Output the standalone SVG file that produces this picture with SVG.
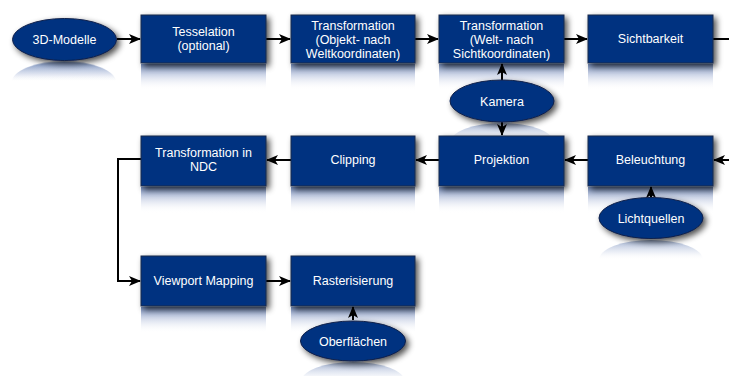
<svg xmlns="http://www.w3.org/2000/svg" width="729" height="376" viewBox="0 0 729 376">
<style>
.box{fill:#003380;stroke:#1a2a4a;stroke-width:1;filter:url(#sh)}
.ell{fill:#003380;stroke:#10204a;stroke-width:1;filter:url(#sh)}
.t{font-family:"Liberation Sans",Arial,sans-serif;font-size:12.5px;fill:#ffffff;text-anchor:middle}
.c{fill:none;stroke:#000;stroke-width:2;marker-end:url(#ah)}
.rf{fill:url(#rg)}
.rfe{fill:url(#rge)}
</style>
<defs>
<filter id="sh" x="-20%" y="-20%" width="150%" height="160%">
<feGaussianBlur in="SourceAlpha" stdDeviation="3"/>
<feOffset dx="3" dy="3" result="b"/>
<feComponentTransfer><feFuncA type="linear" slope="0.7"/></feComponentTransfer>
<feMerge><feMergeNode/><feMergeNode in="SourceGraphic"/></feMerge>
</filter>
<linearGradient id="rg" x1="0" y1="0" x2="0" y2="1">
<stop offset="0" stop-color="#3a5a98" stop-opacity="0.75"/>
<stop offset="0.5" stop-color="#9aaad0" stop-opacity="0.35"/>
<stop offset="1" stop-color="#ffffff" stop-opacity="0"/>
</linearGradient>
<linearGradient id="rge" x1="0" y1="0" x2="0" y2="1">
<stop offset="0" stop-color="#5a76ac" stop-opacity="0.6"/>
<stop offset="0.6" stop-color="#b0bedc" stop-opacity="0.25"/>
<stop offset="1" stop-color="#ffffff" stop-opacity="0"/>
</linearGradient>
<marker id="ah" viewBox="0 0 12 10" refX="11" refY="5" markerWidth="6" markerHeight="5" orient="auto" markerUnits="strokeWidth">
<path d="M0,0 L12,5 L0,10 L3,5 Z" fill="#000"/>
</marker>
</defs>

<g id="reflections">
<rect class="rf" x="141" y="64" width="125" height="26"/>
<rect class="rf" x="291" y="64" width="124" height="26"/>
<rect class="rf" x="439" y="64" width="125" height="26"/>
<rect class="rf" x="588" y="64" width="125" height="26"/>
<rect class="rf" x="141" y="187" width="125" height="26"/>
<rect class="rf" x="291" y="187" width="124" height="26"/>
<rect class="rf" x="439" y="187" width="125" height="26"/>
<rect class="rf" x="588" y="187" width="125" height="26"/>
<rect class="rf" x="141" y="307" width="125" height="26"/>
<rect class="rf" x="291" y="307" width="124" height="26"/>
<path class="rfe" d="M12,82 A52,21 0 0 1 116,82 L116,82 Z"/>
<path class="rfe" d="M12,82 A52,20 0 0 1 116,82 L116,80 L12,80 Z"/>
<path class="rfe" d="M450,143 A52,20 0 0 1 554,143 Z"/>
<path class="rfe" d="M599,260 A52,20 0 0 1 703,260 Z"/>
<path class="rfe" d="M301,382 A52,20 0 0 1 405,382 Z"/>
</g>

<g id="connectors">
<line class="c" x1="117" y1="39" x2="140" y2="39"/>
<line class="c" x1="266" y1="39" x2="290" y2="39"/>
<line class="c" x1="415" y1="39" x2="438" y2="39"/>
<line class="c" x1="564" y1="39" x2="587" y2="39"/>
<path class="c" d="M713,39 L745,39 L745,160 L714,160"/>
<line class="c" x1="588" y1="160" x2="565" y2="160"/>
<line class="c" x1="439" y1="160" x2="416" y2="160"/>
<line class="c" x1="291" y1="160" x2="267" y2="160"/>
<path class="c" d="M141,159 L118,159 L118,281 L140,281"/>
<line class="c" x1="266" y1="281" x2="290" y2="281"/>
<line class="c" x1="502" y1="80" x2="502" y2="64"/>
<line class="c" x1="502" y1="122" x2="502" y2="135"/>
<line class="c" x1="651" y1="197" x2="651" y2="187"/>
<line class="c" x1="353" y1="320" x2="353" y2="307"/>
</g>

<g id="n-3d"><ellipse class="ell" cx="64.5" cy="39.5" rx="52" ry="21"/><text class="t" x="64.5" y="44">3D-Modelle</text></g>
<g id="n-tess"><rect class="box" x="141" y="15" width="125" height="48"/><text class="t" x="203.5" y="36">Tesselation</text><text class="t" x="203.5" y="50">(optional)</text></g>
<g id="n-trans1"><rect class="box" x="291" y="15" width="124" height="48"/><text class="t" x="353" y="30">Transformation</text><text class="t" x="353" y="44">(Objekt- nach</text><text class="t" x="353" y="58">Weltkoordinaten)</text></g>
<g id="n-trans2"><rect class="box" x="439" y="15" width="125" height="48"/><text class="t" x="501.5" y="30">Transformation</text><text class="t" x="501.5" y="44">(Welt- nach</text><text class="t" x="501.5" y="58">Sichtkoordinaten)</text></g>
<g id="n-sicht"><rect class="box" x="588" y="15" width="125" height="48"/><text class="t" x="650.5" y="43">Sichtbarkeit</text></g>
<g id="n-kamera"><ellipse class="ell" cx="502" cy="101" rx="52" ry="21"/><text class="t" x="502" y="105.5">Kamera</text></g>
<g id="n-ndc"><rect class="box" x="141" y="136" width="125" height="50"/><text class="t" x="203.5" y="157">Transformation in</text><text class="t" x="203.5" y="171">NDC</text></g>
<g id="n-clip"><rect class="box" x="291" y="136" width="124" height="50"/><text class="t" x="353" y="164">Clipping</text></g>
<g id="n-proj"><rect class="box" x="439" y="136" width="125" height="50"/><text class="t" x="501.5" y="164">Projektion</text></g>
<g id="n-bel"><rect class="box" x="588" y="136" width="125" height="50"/><text class="t" x="650.5" y="164">Beleuchtung</text></g>
<g id="n-licht"><ellipse class="ell" cx="651" cy="218" rx="52" ry="20.5"/><text class="t" x="651" y="222.5">Lichtquellen</text></g>
<g id="n-view"><rect class="box" x="141" y="256" width="125" height="50"/><text class="t" x="203.5" y="285">Viewport Mapping</text></g>
<g id="n-raster"><rect class="box" x="291" y="256" width="124" height="50"/><text class="t" x="353" y="285">Rasterisierung</text></g>
<g id="n-ober"><ellipse class="ell" cx="353" cy="341" rx="52.5" ry="20"/><text class="t" x="353" y="345.5">Oberflächen</text></g>
</svg>
